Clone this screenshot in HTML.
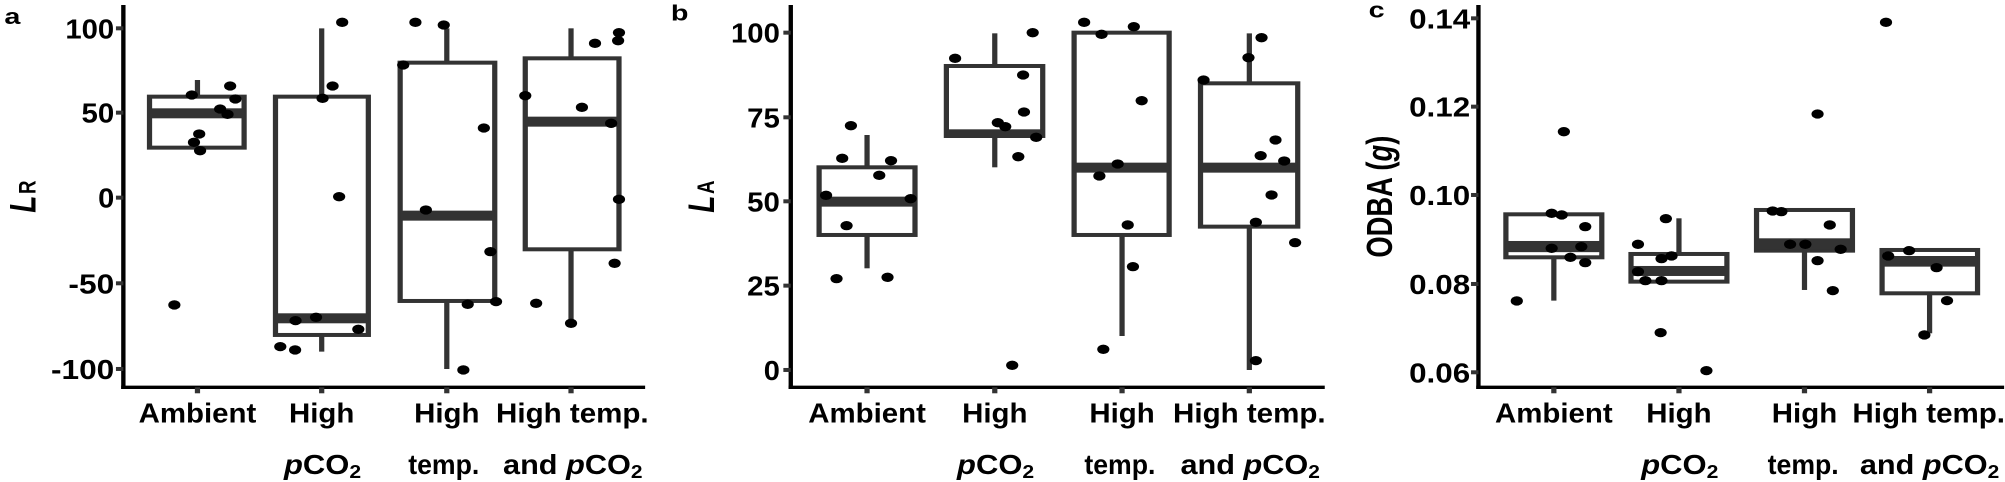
<!DOCTYPE html>
<html><head><meta charset="utf-8"><style>
html,body{margin:0;padding:0;background:#fff;}
svg{display:block;}
text{font-family:"Liberation Sans",Arial,sans-serif;font-weight:bold;fill:#000;}
</style></head><body>
<svg width="2005" height="482" viewBox="0 0 2005 482" xmlns="http://www.w3.org/2000/svg">
<defs>
<style>
.ax{stroke:#000;stroke-width:10;fill:none;}
.tk{stroke:#333;stroke-width:12;}
.bx{stroke:#333;stroke-width:12;fill:#fff;}
.wh{stroke:#333;stroke-width:12;}
.md{fill:#333;}
.tl{font-size:82px;text-anchor:end;}
.xl{font-size:82px;text-anchor:middle;}
</style>
</defs>

<!-- Panel a -->
<g transform="scale(0.4359,0.3333)">
<text x="10" y="72" style="font-size:66px">a</text>
<line class="ax" x1="283" y1="15" x2="283" y2="1167"/>
<line class="ax" x1="278" y1="1162" x2="1480" y2="1162"/>
<g class="tk"><line x1="266" y1="85" x2="283" y2="85"/><line x1="266" y1="338" x2="283" y2="338"/><line x1="266" y1="593" x2="283" y2="593"/><line x1="266" y1="850" x2="283" y2="850"/><line x1="266" y1="1107" x2="283" y2="1107"/>
<line x1="453" y1="1162" x2="453" y2="1180"/><line x1="738" y1="1162" x2="738" y2="1180"/><line x1="1025" y1="1162" x2="1025" y2="1180"/><line x1="1310" y1="1162" x2="1310" y2="1180"/></g>
<text class="tl" x="262" y="115" textLength="112" lengthAdjust="spacingAndGlyphs">100</text>
<text class="tl" x="262" y="368" textLength="75" lengthAdjust="spacingAndGlyphs">50</text>
<text class="tl" x="262" y="623" textLength="37" lengthAdjust="spacingAndGlyphs">0</text>
<text class="tl" x="262" y="880" textLength="105" lengthAdjust="spacingAndGlyphs">-50</text>
<text class="tl" x="262" y="1137" textLength="145" lengthAdjust="spacingAndGlyphs">-100</text>
<text transform="translate(82,590) rotate(-90)" style="font-size:84px;text-anchor:middle"><tspan font-style="italic">L</tspan><tspan font-size="56">&#8202;R</tspan></text>
<line class="wh" x1="453" y1="240" x2="453" y2="290"/>
<rect class="bx" x="343" y="290" width="217" height="153"/>
<rect class="md" x="343" y="325" width="217" height="30"/>
<line class="wh" x1="738" y1="85" x2="738" y2="290"/><line class="wh" x1="738" y1="1005" x2="738" y2="1055"/>
<rect class="bx" x="632" y="290" width="213" height="715"/>
<rect class="md" x="632" y="940" width="213" height="30"/>
<line class="wh" x1="1025" y1="85" x2="1025" y2="188"/><line class="wh" x1="1025" y1="903" x2="1025" y2="1107"/>
<rect class="bx" x="918" y="188" width="217" height="715"/>
<rect class="md" x="918" y="632" width="217" height="30"/>
<line class="wh" x1="1310" y1="85" x2="1310" y2="175"/><line class="wh" x1="1310" y1="748" x2="1310" y2="975"/>
<rect class="bx" x="1205" y="175" width="215" height="573"/>
<rect class="md" x="1205" y="350" width="215" height="30"/>
<g fill="#000">
<circle cx="440" cy="285" r="14"/><circle cx="528" cy="258" r="14"/><circle cx="540" cy="297" r="14"/><circle cx="505" cy="327" r="14"/><circle cx="522" cy="343" r="14"/><circle cx="457" cy="402" r="14"/><circle cx="445" cy="427" r="14"/><circle cx="459" cy="452" r="14"/><circle cx="400" cy="915" r="14"/>
<circle cx="785" cy="67" r="14"/><circle cx="763" cy="258" r="14"/><circle cx="740" cy="295" r="14"/><circle cx="778" cy="590" r="14"/><circle cx="725" cy="952" r="14"/><circle cx="678" cy="962" r="14"/><circle cx="822" cy="988" r="14"/><circle cx="643" cy="1040" r="14"/><circle cx="677" cy="1050" r="14"/>
<circle cx="953" cy="67" r="14"/><circle cx="1018" cy="75" r="14"/><circle cx="925" cy="195" r="14"/><circle cx="977" cy="630" r="14"/><circle cx="1110" cy="384" r="14"/><circle cx="1125" cy="755" r="14"/><circle cx="1073" cy="913" r="14"/><circle cx="1138" cy="905" r="14"/><circle cx="1063" cy="1110" r="14"/>
<circle cx="1420" cy="98" r="14"/><circle cx="1418" cy="122" r="14"/><circle cx="1365" cy="130" r="14"/><circle cx="1205" cy="287" r="14"/><circle cx="1335" cy="322" r="14"/><circle cx="1402" cy="370" r="14"/><circle cx="1420" cy="598" r="14"/><circle cx="1410" cy="790" r="14"/><circle cx="1230" cy="910" r="14"/><circle cx="1310" cy="970" r="14"/>
</g>
<text class="xl" x="453" y="1267" textLength="270" lengthAdjust="spacingAndGlyphs">Ambient</text>
<text class="xl" x="738" y="1267" textLength="150" lengthAdjust="spacingAndGlyphs">High</text>
<text class="xl" x="1025" y="1267" textLength="150" lengthAdjust="spacingAndGlyphs">High</text>
<text class="xl" x="1313" y="1267" textLength="350" lengthAdjust="spacingAndGlyphs">High temp.</text>
<text class="xl" x="740" y="1422" textLength="177" lengthAdjust="spacingAndGlyphs"><tspan font-style="italic">p</tspan>CO<tspan font-size="56" dy="12">2</tspan></text>
<text class="xl" x="1018" y="1422" textLength="163" lengthAdjust="spacingAndGlyphs">temp.</text>
<text class="xl" x="1314" y="1422" textLength="320" lengthAdjust="spacingAndGlyphs">and <tspan font-style="italic">p</tspan>CO<tspan font-size="56" dy="12">2</tspan></text>
</g>

<!-- Panel b -->
<g transform="translate(660,0) scale(0.4359,0.3333)">
<text x="25" y="62" style="font-size:66px">b</text>
<line class="ax" x1="300" y1="15" x2="300" y2="1167"/>
<line class="ax" x1="295" y1="1162" x2="1525" y2="1162"/>
<g class="tk"><line x1="283" y1="98" x2="300" y2="98"/><line x1="283" y1="352" x2="300" y2="352"/><line x1="283" y1="604" x2="300" y2="604"/><line x1="283" y1="857" x2="300" y2="857"/><line x1="283" y1="1110" x2="300" y2="1110"/>
<line x1="475" y1="1162" x2="475" y2="1180"/><line x1="768" y1="1162" x2="768" y2="1180"/><line x1="1060" y1="1162" x2="1060" y2="1180"/><line x1="1352" y1="1162" x2="1352" y2="1180"/></g>
<text class="tl" x="275" y="128" textLength="112" lengthAdjust="spacingAndGlyphs">100</text>
<text class="tl" x="275" y="382" textLength="75" lengthAdjust="spacingAndGlyphs">75</text>
<text class="tl" x="275" y="634" textLength="75" lengthAdjust="spacingAndGlyphs">50</text>
<text class="tl" x="275" y="887" textLength="75" lengthAdjust="spacingAndGlyphs">25</text>
<text class="tl" x="275" y="1140" textLength="37" lengthAdjust="spacingAndGlyphs">0</text>
<text transform="translate(124,590) rotate(-90)" style="font-size:84px;text-anchor:middle"><tspan font-style="italic">L</tspan><tspan font-size="56">&#8202;A</tspan></text>
<line class="wh" x1="475" y1="405" x2="475" y2="502"/><line class="wh" x1="475" y1="705" x2="475" y2="805"/>
<rect class="bx" x="365" y="502" width="220" height="203"/>
<rect class="md" x="365" y="590" width="220" height="30"/>
<line class="wh" x1="768" y1="100" x2="768" y2="198"/><line class="wh" x1="768" y1="410" x2="768" y2="502"/>
<rect class="bx" x="657" y="198" width="221" height="210"/>
<rect class="md" x="657" y="388" width="221" height="26"/>
<line class="wh" x1="1060" y1="705" x2="1060" y2="1008"/>
<rect class="bx" x="950" y="98" width="218" height="607"/>
<rect class="md" x="950" y="488" width="218" height="30"/>
<line class="wh" x1="1352" y1="100" x2="1352" y2="250"/><line class="wh" x1="1352" y1="680" x2="1352" y2="1110"/>
<rect class="bx" x="1240" y="250" width="223" height="430"/>
<rect class="md" x="1240" y="488" width="223" height="30"/>
<g fill="#000">
<circle cx="438" cy="377" r="14"/><circle cx="418" cy="475" r="14"/><circle cx="530" cy="482" r="14"/><circle cx="503" cy="526" r="14"/><circle cx="381" cy="586" r="14"/><circle cx="575" cy="596" r="14"/><circle cx="428" cy="677" r="14"/><circle cx="405" cy="836" r="14"/><circle cx="522" cy="832" r="14"/>
<circle cx="677" cy="175" r="14"/><circle cx="855" cy="98" r="14"/><circle cx="833" cy="225" r="14"/><circle cx="835" cy="336" r="14"/><circle cx="775" cy="368" r="14"/><circle cx="792" cy="380" r="14"/><circle cx="863" cy="412" r="14"/><circle cx="822" cy="470" r="14"/><circle cx="808" cy="1096" r="14"/>
<circle cx="973" cy="67" r="14"/><circle cx="1013" cy="103" r="14"/><circle cx="1087" cy="80" r="14"/><circle cx="1105" cy="302" r="14"/><circle cx="1050" cy="492" r="14"/><circle cx="1008" cy="528" r="14"/><circle cx="1073" cy="675" r="14"/><circle cx="1085" cy="800" r="14"/><circle cx="1017" cy="1048" r="14"/>
<circle cx="1380" cy="113" r="14"/><circle cx="1350" cy="173" r="14"/><circle cx="1247" cy="240" r="14"/><circle cx="1412" cy="420" r="14"/><circle cx="1378" cy="467" r="14"/><circle cx="1432" cy="483" r="14"/><circle cx="1403" cy="585" r="14"/><circle cx="1367" cy="667" r="14"/><circle cx="1457" cy="728" r="14"/><circle cx="1367" cy="1082" r="14"/>
</g>
<text class="xl" x="475" y="1267" textLength="270" lengthAdjust="spacingAndGlyphs">Ambient</text>
<text class="xl" x="768" y="1267" textLength="150" lengthAdjust="spacingAndGlyphs">High</text>
<text class="xl" x="1060" y="1267" textLength="150" lengthAdjust="spacingAndGlyphs">High</text>
<text class="xl" x="1352" y="1267" textLength="350" lengthAdjust="spacingAndGlyphs">High temp.</text>
<text class="xl" x="770" y="1422" textLength="177" lengthAdjust="spacingAndGlyphs"><tspan font-style="italic">p</tspan>CO<tspan font-size="56" dy="12">2</tspan></text>
<text class="xl" x="1055" y="1422" textLength="163" lengthAdjust="spacingAndGlyphs">temp.</text>
<text class="xl" x="1354" y="1422" textLength="320" lengthAdjust="spacingAndGlyphs">and <tspan font-style="italic">p</tspan>CO<tspan font-size="56" dy="12">2</tspan></text>
</g>

<!-- Panel c -->
<g transform="translate(1325,0) scale(0.4359,0.3333)">
<text x="100" y="52" style="font-size:66px">c</text>
<line class="ax" x1="352" y1="15" x2="352" y2="1167"/>
<line class="ax" x1="347" y1="1162" x2="1558" y2="1162"/>
<g class="tk"><line x1="335" y1="55" x2="352" y2="55"/><line x1="335" y1="320" x2="352" y2="320"/><line x1="335" y1="585" x2="352" y2="585"/><line x1="335" y1="852" x2="352" y2="852"/><line x1="335" y1="1117" x2="352" y2="1117"/>
<line x1="525" y1="1162" x2="525" y2="1180"/><line x1="812" y1="1162" x2="812" y2="1180"/><line x1="1100" y1="1162" x2="1100" y2="1180"/><line x1="1387" y1="1162" x2="1387" y2="1180"/></g>
<text class="tl" x="333" y="85" textLength="140" lengthAdjust="spacingAndGlyphs">0.14</text>
<text class="tl" x="333" y="350" textLength="140" lengthAdjust="spacingAndGlyphs">0.12</text>
<text class="tl" x="333" y="615" textLength="140" lengthAdjust="spacingAndGlyphs">0.10</text>
<text class="tl" x="333" y="882" textLength="140" lengthAdjust="spacingAndGlyphs">0.08</text>
<text class="tl" x="333" y="1147" textLength="140" lengthAdjust="spacingAndGlyphs">0.06</text>
<text transform="translate(154,590) rotate(-90)" style="font-size:82px;text-anchor:middle">ODBA (<tspan font-style="italic">g</tspan>)</text>
<line class="wh" x1="525" y1="772" x2="525" y2="902"/>
<rect class="bx" x="415" y="643" width="220" height="129"/>
<rect class="md" x="415" y="723" width="220" height="34"/>
<line stroke="#fff" stroke-width="4" x1="421" y1="759" x2="629" y2="759"/>
<line class="wh" x1="812" y1="655" x2="812" y2="762"/>
<rect class="bx" x="702" y="762" width="220" height="83"/>
<rect class="md" x="702" y="798" width="220" height="30"/>
<line stroke="#fff" stroke-width="4" x1="708" y1="831" x2="916" y2="831"/>
<line class="wh" x1="1100" y1="752" x2="1100" y2="870"/>
<rect class="bx" x="990" y="630" width="220" height="122"/>
<rect class="md" x="990" y="715" width="220" height="35"/>
<line class="wh" x1="1387" y1="880" x2="1387" y2="1000"/>
<rect class="bx" x="1278" y="750" width="219" height="130"/>
<rect class="md" x="1278" y="768" width="219" height="32"/>
<line stroke="#fff" stroke-width="4" x1="1284" y1="766" x2="1491" y2="766"/>
<g fill="#000">
<circle cx="548" cy="395" r="14"/><circle cx="520" cy="640" r="14"/><circle cx="543" cy="645" r="14"/><circle cx="597" cy="680" r="14"/><circle cx="520" cy="745" r="14"/><circle cx="588" cy="740" r="14"/><circle cx="563" cy="772" r="14"/><circle cx="597" cy="788" r="14"/><circle cx="440" cy="903" r="14"/>
<circle cx="782" cy="656" r="14"/><circle cx="718" cy="733" r="14"/><circle cx="795" cy="768" r="14"/><circle cx="772" cy="776" r="14"/><circle cx="718" cy="815" r="14"/><circle cx="735" cy="842" r="14"/><circle cx="772" cy="842" r="14"/><circle cx="770" cy="998" r="14"/><circle cx="875" cy="1112" r="14"/>
<circle cx="1130" cy="342" r="14"/><circle cx="1027" cy="633" r="14"/><circle cx="1047" cy="635" r="14"/><circle cx="1158" cy="675" r="14"/><circle cx="1067" cy="733" r="14"/><circle cx="1102" cy="733" r="14"/><circle cx="1183" cy="748" r="14"/><circle cx="1130" cy="782" r="14"/><circle cx="1165" cy="872" r="14"/>
<circle cx="1287" cy="67" r="14"/><circle cx="1292" cy="768" r="14"/><circle cx="1340" cy="752" r="14"/><circle cx="1403" cy="803" r="14"/><circle cx="1427" cy="902" r="14"/><circle cx="1375" cy="1005" r="14"/>
</g>
<text class="xl" x="525" y="1267" textLength="270" lengthAdjust="spacingAndGlyphs">Ambient</text>
<text class="xl" x="812" y="1267" textLength="150" lengthAdjust="spacingAndGlyphs">High</text>
<text class="xl" x="1100" y="1267" textLength="150" lengthAdjust="spacingAndGlyphs">High</text>
<text class="xl" x="1385" y="1267" textLength="350" lengthAdjust="spacingAndGlyphs">High temp.</text>
<text class="xl" x="814" y="1422" textLength="177" lengthAdjust="spacingAndGlyphs"><tspan font-style="italic">p</tspan>CO<tspan font-size="56" dy="12">2</tspan></text>
<text class="xl" x="1097" y="1422" textLength="163" lengthAdjust="spacingAndGlyphs">temp.</text>
<text class="xl" x="1387" y="1422" textLength="320" lengthAdjust="spacingAndGlyphs">and <tspan font-style="italic">p</tspan>CO<tspan font-size="56" dy="12">2</tspan></text>
</g>
</svg>
</body></html>
